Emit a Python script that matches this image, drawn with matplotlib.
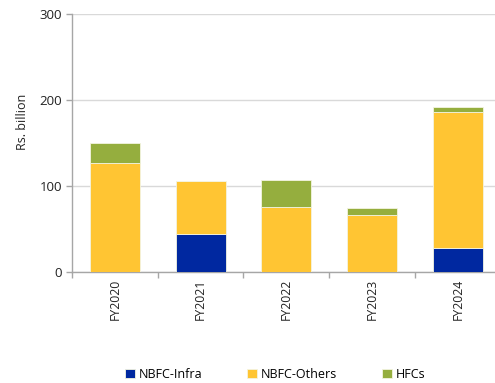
import matplotlib
matplotlib.use("Agg")
import matplotlib.pyplot as plt
import numpy as np

# Disbursement mix by lender type (Rs. billion)
years = ["FY2020", "FY2021", "FY2022", "FY2023", "FY2024"]
nbfc_infra = [0, 44, 0, 0, 28]
nbfc_others = [126, 62, 75, 66, 158]
hfcs = [24, 0, 32, 8, 6]

series_names = ["NBFC-Infra", "NBFC-Others", "HFCs"]
colors = ["#0028A0", "#FFC533", "#95AE3E"]

plt.rcParams["font.family"] = ["Open Sans", "DejaVu Sans"]

fig = plt.figure(figsize=(4.95, 3.83), dpi=100)
ax = fig.add_axes([0.1455, 0.2906, 0.866, 0.6736])

x = np.arange(len(years))
bottom = np.zeros(len(years))
handles = []
for vals, name, col in zip([nbfc_infra, nbfc_others, hfcs], series_names, colors):
    v = np.array(vals, dtype=float)
    h = ax.bar(x, v, width=0.585, bottom=bottom, color=col, label=name,
               edgecolor="#f4f4e0", linewidth=0.6, zorder=3)
    handles.append(h)
    bottom += v

ax.set_xlim(-0.5, len(years) - 0.5)
ax.set_ylim(0, 300)
ax.set_yticks([0, 100, 200, 300])
ax.yaxis.grid(True, color="#d9d9d9", linewidth=1.0, zorder=0)
ax.set_axisbelow(True)

# category labels centred, tick marks on category boundaries
ax.set_xticks(x)
ax.set_xticklabels(years, rotation=90, fontsize=8.8, color="#222222")
ax.tick_params(axis="x", which="major", length=0, pad=5)
ax.set_xticks(np.arange(-0.5, len(years), 1.0), minor=True)
ax.tick_params(axis="x", which="minor", length=4, color="#a6a6a6", width=1)
ax.tick_params(axis="y", length=4, color="#a6a6a6", width=1, labelsize=9.5,
               labelcolor="#222222", pad=3)

for s in ["top", "right"]:
    ax.spines[s].set_visible(False)
for s in ["left", "bottom"]:
    ax.spines[s].set_color("#a6a6a6")
    ax.spines[s].set_linewidth(1.0)

fig.text(0.045, 0.682, "Rs. billion", rotation=90, ha="center", va="center",
         fontsize=9, color="#222222")

fig.legend(handles=handles, labels=series_names, loc="center",
           bbox_to_anchor=(0.556, 0.023), ncol=3, frameon=False,
           fontsize=9, handlelength=0.8, handleheight=0.8,
           handletextpad=0.3, columnspacing=3.6)

fig.savefig("out.png", dpi=100)
